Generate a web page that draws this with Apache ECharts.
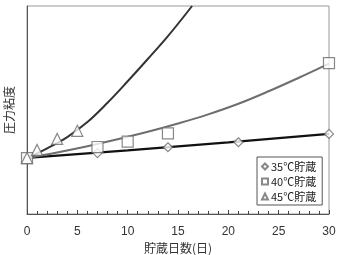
<!DOCTYPE html>
<html><head><meta charset="utf-8">
<script src="https://cdn.jsdelivr.net/npm/echarts@6/dist/echarts.min.js"></script>
<style>html,body{margin:0;padding:0;background:#fff}#c{width:337px;height:255px}</style>
</head><body><div id="c"></div>
<script>
var xTicks = [0, 5, 10, 15, 20, 25, 30];
var seriesNames = ['35℃貯蔵', '40℃貯蔵', '45℃貯蔵'];
var days35 = [0, 7, 14, 21, 30];
var visc35 = [26.9, 29.3, 32.1, 34.5, 38.5];
var days40 = [0, 7, 10, 14, 30];
var visc40 = [26.9, 32.2, 34.8, 38.8, 72.5];
var days45 = [0, 1, 3, 5];
var visc45 = [26.9, 30.8, 36.1, 40.0];
var fitDays35 = [0, 10, 20, 30];
var fit35 = [27.0, 30.6, 34.4, 38.5];
var fitDays40 = [0, 3, 6, 9, 12, 15, 18, 21, 24, 27, 30];
var fit40 = [26.9, 29.6, 32.6, 35.9, 39.5, 43.5, 47.9, 53.0, 59.0, 65.5, 72.3];
var fitDays45 = [0, 2, 4, 6, 8, 10, 12, 14, 16.4];
var fit45 = [26.9, 31.6, 37.0, 44.2, 53.5, 63.8, 74.5, 85.5, 100];

function pairs(xs, ys) { return xs.map(function (x, i) { return [x, ys[i]]; }); }
var font = 'Noto Sans CJK JP';
var mk = { color: '#fff', borderColor: '#6a6a6a', borderWidth: 1.2 };

var chart = echarts.init(document.getElementById('c'), null, { renderer: 'canvas' });
chart.setOption({
  animation: false,
  grid: { left: 27, right: 8, top: 6, bottom: 41, show: true, borderColor: '#999', borderWidth: 1, outerBoundsMode: 'none', containLabel: false },
  xAxis: {
    type: 'value', min: xTicks[0], max: xTicks[xTicks.length - 1], interval: 5,
    name: '貯蔵日数(日)', nameLocation: 'middle', nameGap: 27,
    nameTextStyle: { fontFamily: font, fontSize: 12, color: '#333' },
    axisLine: { show: true, lineStyle: { color: '#555' } },
    axisTick: { show: true, inside: true, length: 4, lineStyle: { color: '#444', width: 1 } },
    minorTick: { show: true, splitNumber: 5, length: 3, lineStyle: { color: '#444', width: 1 } },
    axisLabel: { margin: 12, fontSize: 12, color: '#333', fontFamily: 'Liberation Sans' },
    splitLine: { show: false }
  },
  yAxis: {
    type: 'value', min: 0, max: 100,
    name: '圧力粘度', nameLocation: 'middle', nameGap: 12, nameRotate: 90,
    nameTextStyle: { fontFamily: font, fontSize: 12, color: '#333' },
    axisLine: { show: true, lineStyle: { color: '#555' } },
    axisTick: { show: false }, axisLabel: { show: false }, splitLine: { show: false }
  },
  legend: {
    orient: 'vertical', left: 257, top: 157,
    data: seriesNames,
    borderColor: '#555', borderWidth: 1, padding: [4, 6, 3, 4], itemGap: 4,
    itemWidth: 6, itemHeight: 6,
    textStyle: { fontFamily: font, fontSize: 11, color: '#222', padding: [0, 0, 0, -2] }
  },
  series: [
    { type: 'line', data: pairs(fitDays35, fit35), smooth: false, showSymbol: false, lineStyle: { color: '#111', width: 2.2 }, z: 2, silent: true },
    { type: 'line', data: pairs(fitDays40, fit40), smooth: 0.4, showSymbol: false, lineStyle: { color: '#6e6e6e', width: 2 }, z: 2, silent: true },
    { type: 'line', data: pairs(fitDays45, fit45), smooth: 0.4, showSymbol: false, lineStyle: { color: '#333', width: 2 }, z: 2, silent: true },
    { name: seriesNames[0], type: 'scatter', symbol: 'diamond', symbolSize: 9, data: pairs(days35, visc35), itemStyle: mk, z: 5 },
    { name: seriesNames[1], type: 'scatter', symbol: 'rect', symbolSize: 11, data: pairs(days40, visc40), itemStyle: mk, z: 5 },
    { name: seriesNames[2], type: 'scatter', symbol: 'triangle', symbolSize: 11, data: pairs(days45, visc45), itemStyle: mk, z: 5 }
  ]
});
</script></body></html>
